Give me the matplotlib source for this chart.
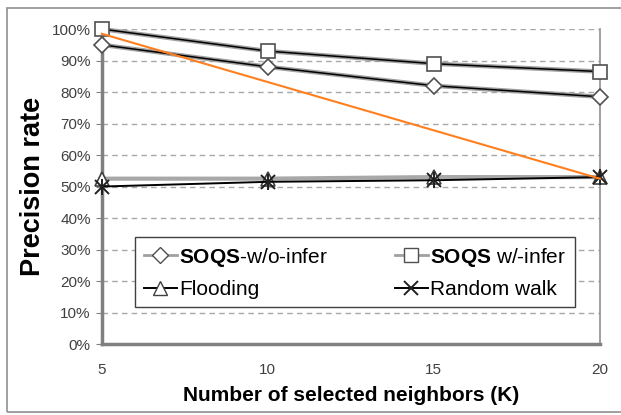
import matplotlib
matplotlib.use("Agg")
import matplotlib.pyplot as plt
from matplotlib.patches import Rectangle
from matplotlib.ticker import PercentFormatter

plt.rcParams['font.family'] = ['Liberation Sans', 'DejaVu Sans']
plt.rcParams['mathtext.fontset'] = 'custom'
plt.rcParams['mathtext.bf'] = 'Liberation Sans:bold'
plt.rcParams['mathtext.rm'] = 'Liberation Sans'

k = [5, 10, 15, 20]
soqs_wo_infer = [95, 88, 82, 78.5]
soqs_w_infer = [100, 93, 89, 86.5]
flooding = [52.5, 52.5, 53, 53]
random_walk = [50, 51.5, 52, 53]
trend_k = [5, 20]
trend = [98.5, 52.5]

fig = plt.figure(figsize=(6.21, 4.15), dpi=100)
ax = fig.add_axes([0.164, 0.171, 0.802, 0.759])

# outer frame of the picture
fig.patches.append(Rectangle((0.011, 0.007), 1.2, 0.974, transform=fig.transFigure,
                             fill=False, edgecolor='#909090', lw=1.2))

# lines: gray halo with a black core, like the original Excel export
ax.plot(k, soqs_wo_infer, color='#a0a0a0', lw=3.2, zorder=3, clip_on=False)
ax.plot(k, soqs_wo_infer, color='black', lw=1.1, marker='D', ms=8, mfc='white',
        mec='#505050', mew=1.2, zorder=4, clip_on=False)
ax.plot(k, soqs_w_infer, color='#a0a0a0', lw=3.2, zorder=3, clip_on=False)
ax.plot(k, soqs_w_infer, color='black', lw=1.1, marker='s', ms=10, mfc='white',
        mec='#505050', mew=1.2, zorder=4, clip_on=False)
ax.plot(k, flooding, color='#a8a8a8', lw=3, marker='^', ms=10, mfc='white',
        mec='#404040', mew=1.2, zorder=3, clip_on=False)
ax.plot(k, random_walk, color='black', lw=1.4, marker='x', ms=10, mec='#202020',
        mew=1.4, zorder=4, clip_on=False)
ax.plot(k, random_walk, ls='none', marker='|', ms=12, mec='#202020', mew=1.4, zorder=4,
        clip_on=False)
ax.plot(trend_k, trend, color='#ff7f1e', lw=1.5, zorder=5, clip_on=False)

ax.set_xlim(5, 20)
ax.set_ylim(0, 100)
ax.set_xticks(k)
ax.set_yticks(range(0, 101, 10))
ax.yaxis.set_major_formatter(PercentFormatter(decimals=0))
ax.tick_params(axis='both', labelsize=11, labelcolor='#404040', color='#808080')
ax.tick_params(axis='x', length=0, pad=14)
ax.tick_params(axis='y', length=4, pad=4)
ax.grid(axis='y', color='#a8a8a8', ls=(0, (4, 3)), lw=1)
ax.set_axisbelow(True)

for s in ['left', 'bottom']:
    ax.spines[s].set_color('#808080')
    ax.spines[s].set_linewidth(2.5)
ax.spines['right'].set_color('#909090')
ax.spines['right'].set_linewidth(1.2)
ax.spines['top'].set_visible(False)

ax.set_xlabel('Number of selected neighbors (K)', fontsize=15, fontweight='bold', labelpad=6)
ax.set_ylabel('Precision rate', fontsize=19.5, fontweight='bold', labelpad=4)

# legend built from proxy handles, ordered row by row
h1, = ax.plot([], [], color='#a0a0a0', lw=2, marker='D', ms=8, mfc='white', mec='#505050')
h2, = ax.plot([], [], color='#a0a0a0', lw=2, marker='s', ms=10, mfc='white', mec='#505050')
h3, = ax.plot([], [], color='black', lw=1.4, marker='^', ms=10, mfc='white', mec='#404040')
h4, = ax.plot([], [], color='black', lw=1.4, marker='x', ms=10, mec='#202020', mew=1.4)
leg = ax.legend([h1, h3, h2, h4],
                [r'$\mathbf{SOQS}$-w/o-infer', 'Flooding', r'$\mathbf{SOQS}$ w/-infer', 'Random walk'],
                ncol=2, loc='lower left', bbox_to_anchor=(0.046, 0.083, 0.924, 0.237),
                mode='expand', fontsize=15, frameon=True, fancybox=False,
                handlelength=1.6, handletextpad=0.1, borderpad=0.4, labelspacing=0.55,
                columnspacing=1.0)
leg.get_frame().set_edgecolor('#404040')
leg.get_frame().set_linewidth(1)
leg.get_frame().set_alpha(1)

fig.savefig('out.png', dpi=100)
